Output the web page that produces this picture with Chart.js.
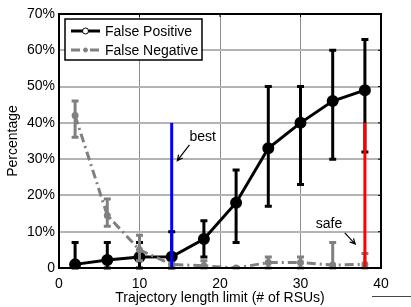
<!DOCTYPE html>
<html>
<head>
<meta charset="utf-8">
<script src="https://cdn.jsdelivr.net/npm/chart.js@4.4.0/dist/chart.umd.min.js"></script>
<style>
html, body { margin: 0; padding: 0; background: #fff; }
#wrap { width: 411px; height: 307px; }
</style>
</head>
<body>
<div id="wrap"><canvas id="chart"></canvas></div>
<script>
"use strict";

const fontFamily = "'Liberation Sans', Arial, sans-serif";
const gray = "#808080";

// trajectory length limit (# of RSUs)
const limits = [2, 6, 10, 14, 18, 22, 26, 30, 34, 38];

// false positive, percent
const fpValues = [1, 2.2, 3, 3.1, 8, 18, 33, 40, 46, 49];
const fpLow = [0, 0, 0, 0, 3, 7, 17, 23, 30, 32];
const fpHigh = [7, 7, 7, 10, 13, 27, 50, 50, 60, 63];

// false negative, percent
const fnValues = [42, 14.5, 5, 1, 0.6, 0, 1.5, 1.5, 0.8, 1];
const fnLow = [36, 11.5, 2, 0, 0, 0, 0, 0, 0, 0];
const fnHigh = [46, 19, 9, 1, 2, 0, 3, 3, 7, 4];

// vertical "best" / "safe" markers
const cutoffX = [14, 38];
const cutoffSpan = [0, 40];
const cutoffColors = ["#0000ff", "#ff0000"];

// annotation labels with arrows (data units)
const noteText = ["best", "safe"];
const noteAt = [[16.2, 36.2], [31.9, 12]];
const arrowFrom = [[16.2, 33.9], [35.5, 9.7]];
const arrowTo = [[14.7, 29.6], [36.8, 6.6]];

const xTicks = [0, 10, 20, 30, 40];
const yMax = 70;


function points(xs, ys) {
	return xs.map((x, i) => ({ x: x, y: ys[i] }));
}


const errorBars = {
	id: "errorBars",
	afterDatasetDraw(chart, args) {
		const ds = chart.data.datasets[args.index];
		if (!ds.errLow) return;
		const ctx = chart.ctx;
		const xs = chart.scales.x;
		const ys = chart.scales.y;
		ctx.save();
		ctx.strokeStyle = ds.borderColor;
		ctx.lineWidth = 3;
		ctx.lineCap = "butt";
		ds.data.forEach((p, i) => {
			const px = xs.getPixelForValue(p.x);
			const lo = ys.getPixelForValue(ds.errLow[i]);
			const hi = ys.getPixelForValue(ds.errHigh[i]);
			ctx.beginPath();
			ctx.moveTo(px, lo);
			ctx.lineTo(px, hi);
			ctx.moveTo(px - 3.5, lo);
			ctx.lineTo(px + 3.5, lo);
			ctx.moveTo(px - 3.5, hi);
			ctx.lineTo(px + 3.5, hi);
			ctx.stroke();
		});
		ctx.restore();
	}
};


function arrow(ctx, x1, y1, x2, y2) {
	const ang = Math.atan2(y2 - y1, x2 - x1);
	ctx.beginPath();
	ctx.moveTo(x1, y1);
	ctx.lineTo(x2, y2);
	ctx.moveTo(x2 - 6 * Math.cos(ang - 0.45), y2 - 6 * Math.sin(ang - 0.45));
	ctx.lineTo(x2, y2);
	ctx.lineTo(x2 - 6 * Math.cos(ang + 0.45), y2 - 6 * Math.sin(ang + 0.45));
	ctx.stroke();
}


const decorations = {
	id: "decorations",
	afterDraw(chart) {
		const ctx = chart.ctx;
		const area = chart.chartArea;
		const xs = chart.scales.x;
		const ys = chart.scales.y;
		ctx.save();

		// frame with inward ticks on top and right
		ctx.strokeStyle = "#000";
		ctx.lineWidth = 2;
		ctx.strokeRect(area.left, area.top, area.right - area.left, area.bottom - area.top);
		ctx.lineWidth = 1;
		ctx.beginPath();
		xTicks.forEach(v => {
			const px = xs.getPixelForValue(v);
			ctx.moveTo(px, area.top);
			ctx.lineTo(px, area.top + 3);
		});
		for (let v = 0; v <= yMax; v += 10) {
			const py = ys.getPixelForValue(v);
			ctx.moveTo(area.right, py);
			ctx.lineTo(area.right - 3, py);
		}
		ctx.stroke();

		// notes
		ctx.fillStyle = "#000";
		ctx.font = "14px " + fontFamily;
		ctx.textAlign = "left";
		ctx.textBaseline = "middle";
		ctx.lineWidth = 1.2;
		noteText.forEach((t, i) => {
			ctx.fillText(t, xs.getPixelForValue(noteAt[i][0]), ys.getPixelForValue(noteAt[i][1]));
			arrow(ctx,
				xs.getPixelForValue(arrowFrom[i][0]), ys.getPixelForValue(arrowFrom[i][1]),
				xs.getPixelForValue(arrowTo[i][0]), ys.getPixelForValue(arrowTo[i][1]));
		});

		// legend box
		const lx = area.left + 6;
		const ly = area.top + 5;
		ctx.fillStyle = "#fff";
		ctx.fillRect(lx, ly, 137, 41);
		ctx.strokeStyle = "#000";
		ctx.lineWidth = 1.5;
		ctx.strokeRect(lx, ly, 137, 41);

		const entries = [chart.data.datasets[3], chart.data.datasets[2]];
		entries.forEach((ds, i) => {
			const y = ly + 12 + i * 19;
			ctx.strokeStyle = ds.borderColor;
			ctx.lineWidth = 3;
			ctx.setLineDash(ds.borderDash || []);
			ctx.beginPath();
			ctx.moveTo(lx + 6, y);
			ctx.lineTo(lx + 35, y);
			ctx.stroke();
			ctx.setLineDash([]);
			ctx.strokeStyle = ds.borderColor;
			ctx.lineWidth = 1;
			ctx.beginPath();
			ctx.arc(lx + 20.5, y, i === 0 ? 3 : 2, 0, Math.PI * 2);
			ctx.fillStyle = i === 0 ? "#fff" : ds.pointBackgroundColor;
			ctx.fill();
			ctx.stroke();
			ctx.fillStyle = "#000";
			ctx.fillText(ds.label, lx + 40, y + 1);
		});

		// stray rule bottom right
		ctx.strokeStyle = "#444";
		ctx.lineWidth = 1;
		ctx.beginPath();
		ctx.moveTo(372, 296.5);
		ctx.lineTo(411, 296.5);
		ctx.stroke();

		ctx.restore();
	}
};


const ctx = document.getElementById("chart").getContext("2d");

new Chart(ctx, {
	type: "line",
	data: {
		datasets: [
			{
				label: "best",
				data: points([cutoffX[0], cutoffX[0]], cutoffSpan),
				borderColor: cutoffColors[0],
				borderWidth: 3,
				pointRadius: 0,
				order: 0,
			},
			{
				label: "safe",
				data: points([cutoffX[1], cutoffX[1]], cutoffSpan),
				borderColor: cutoffColors[1],
				borderWidth: 3,
				pointRadius: 0,
				order: 0,
			},
			{
				label: "False Negative",
				data: points(limits, fnValues),
				errLow: fnLow,
				errHigh: fnHigh,
				borderColor: gray,
				borderWidth: 3,
				borderDash: [9, 4, 2, 4],
				pointRadius: 2,
				pointBackgroundColor: gray,
				pointBorderColor: gray,
				order: 1,
			},
			{
				label: "False Positive",
				data: points(limits, fpValues),
				errLow: fpLow,
				errHigh: fpHigh,
				borderColor: "#000",
				borderWidth: 3,
				pointRadius: 4.5,
				pointBackgroundColor: "#000",
				pointBorderColor: "#000",
				order: 2,
			},
		],
	},
	options: {
		responsive: true,
		maintainAspectRatio: false,
		animation: false,
		layout: {
			padding: { top: 14, right: 30, left: 0, bottom: 0 },
		},
		plugins: {
			legend: { display: false },
			tooltip: { enabled: false },
		},
		scales: {
			x: {
				type: "linear",
				min: 0,
				max: 40,
				afterFit: scale => { scale.height = 39; },
				afterBuildTicks: scale => { scale.ticks = xTicks.map(v => ({ value: v })); },
				ticks: {
					color: "#000",
					padding: 8,
					maxRotation: 0,
					font: { family: fontFamily, size: 14 },
				},
				grid: {
					drawTicks: false,
					color: c => (c.tick.value === 0 || c.tick.value === 40) ? "rgba(0,0,0,0)" : "#8c8c8c",
					lineWidth: 1,
				},
				border: { display: false },
				title: {
					display: true,
					text: "Trajectory length limit (# of RSUs)",
					color: "#000",
					padding: { top: 0, bottom: 0 },
					font: { family: fontFamily, size: 14 },
				},
			},
			y: {
				min: 0,
				max: yMax,
				afterFit: scale => { scale.width = 59; },
				ticks: {
					stepSize: 10,
					color: "#000",
					padding: 4,
					font: { family: fontFamily, size: 14 },
					callback: v => v === 0 ? "0" : v + "%",
				},
				grid: {
					drawTicks: false,
					color: "#b4b4b4",
					lineWidth: 2,
				},
				border: { display: false },
				title: {
					display: true,
					text: "Percentage",
					color: "#000",
					padding: { top: 5, bottom: 0 },
					font: { family: fontFamily, size: 14 },
				},
			},
		},
	},
	plugins: [errorBars, decorations],
});
</script>
</body>
</html>
